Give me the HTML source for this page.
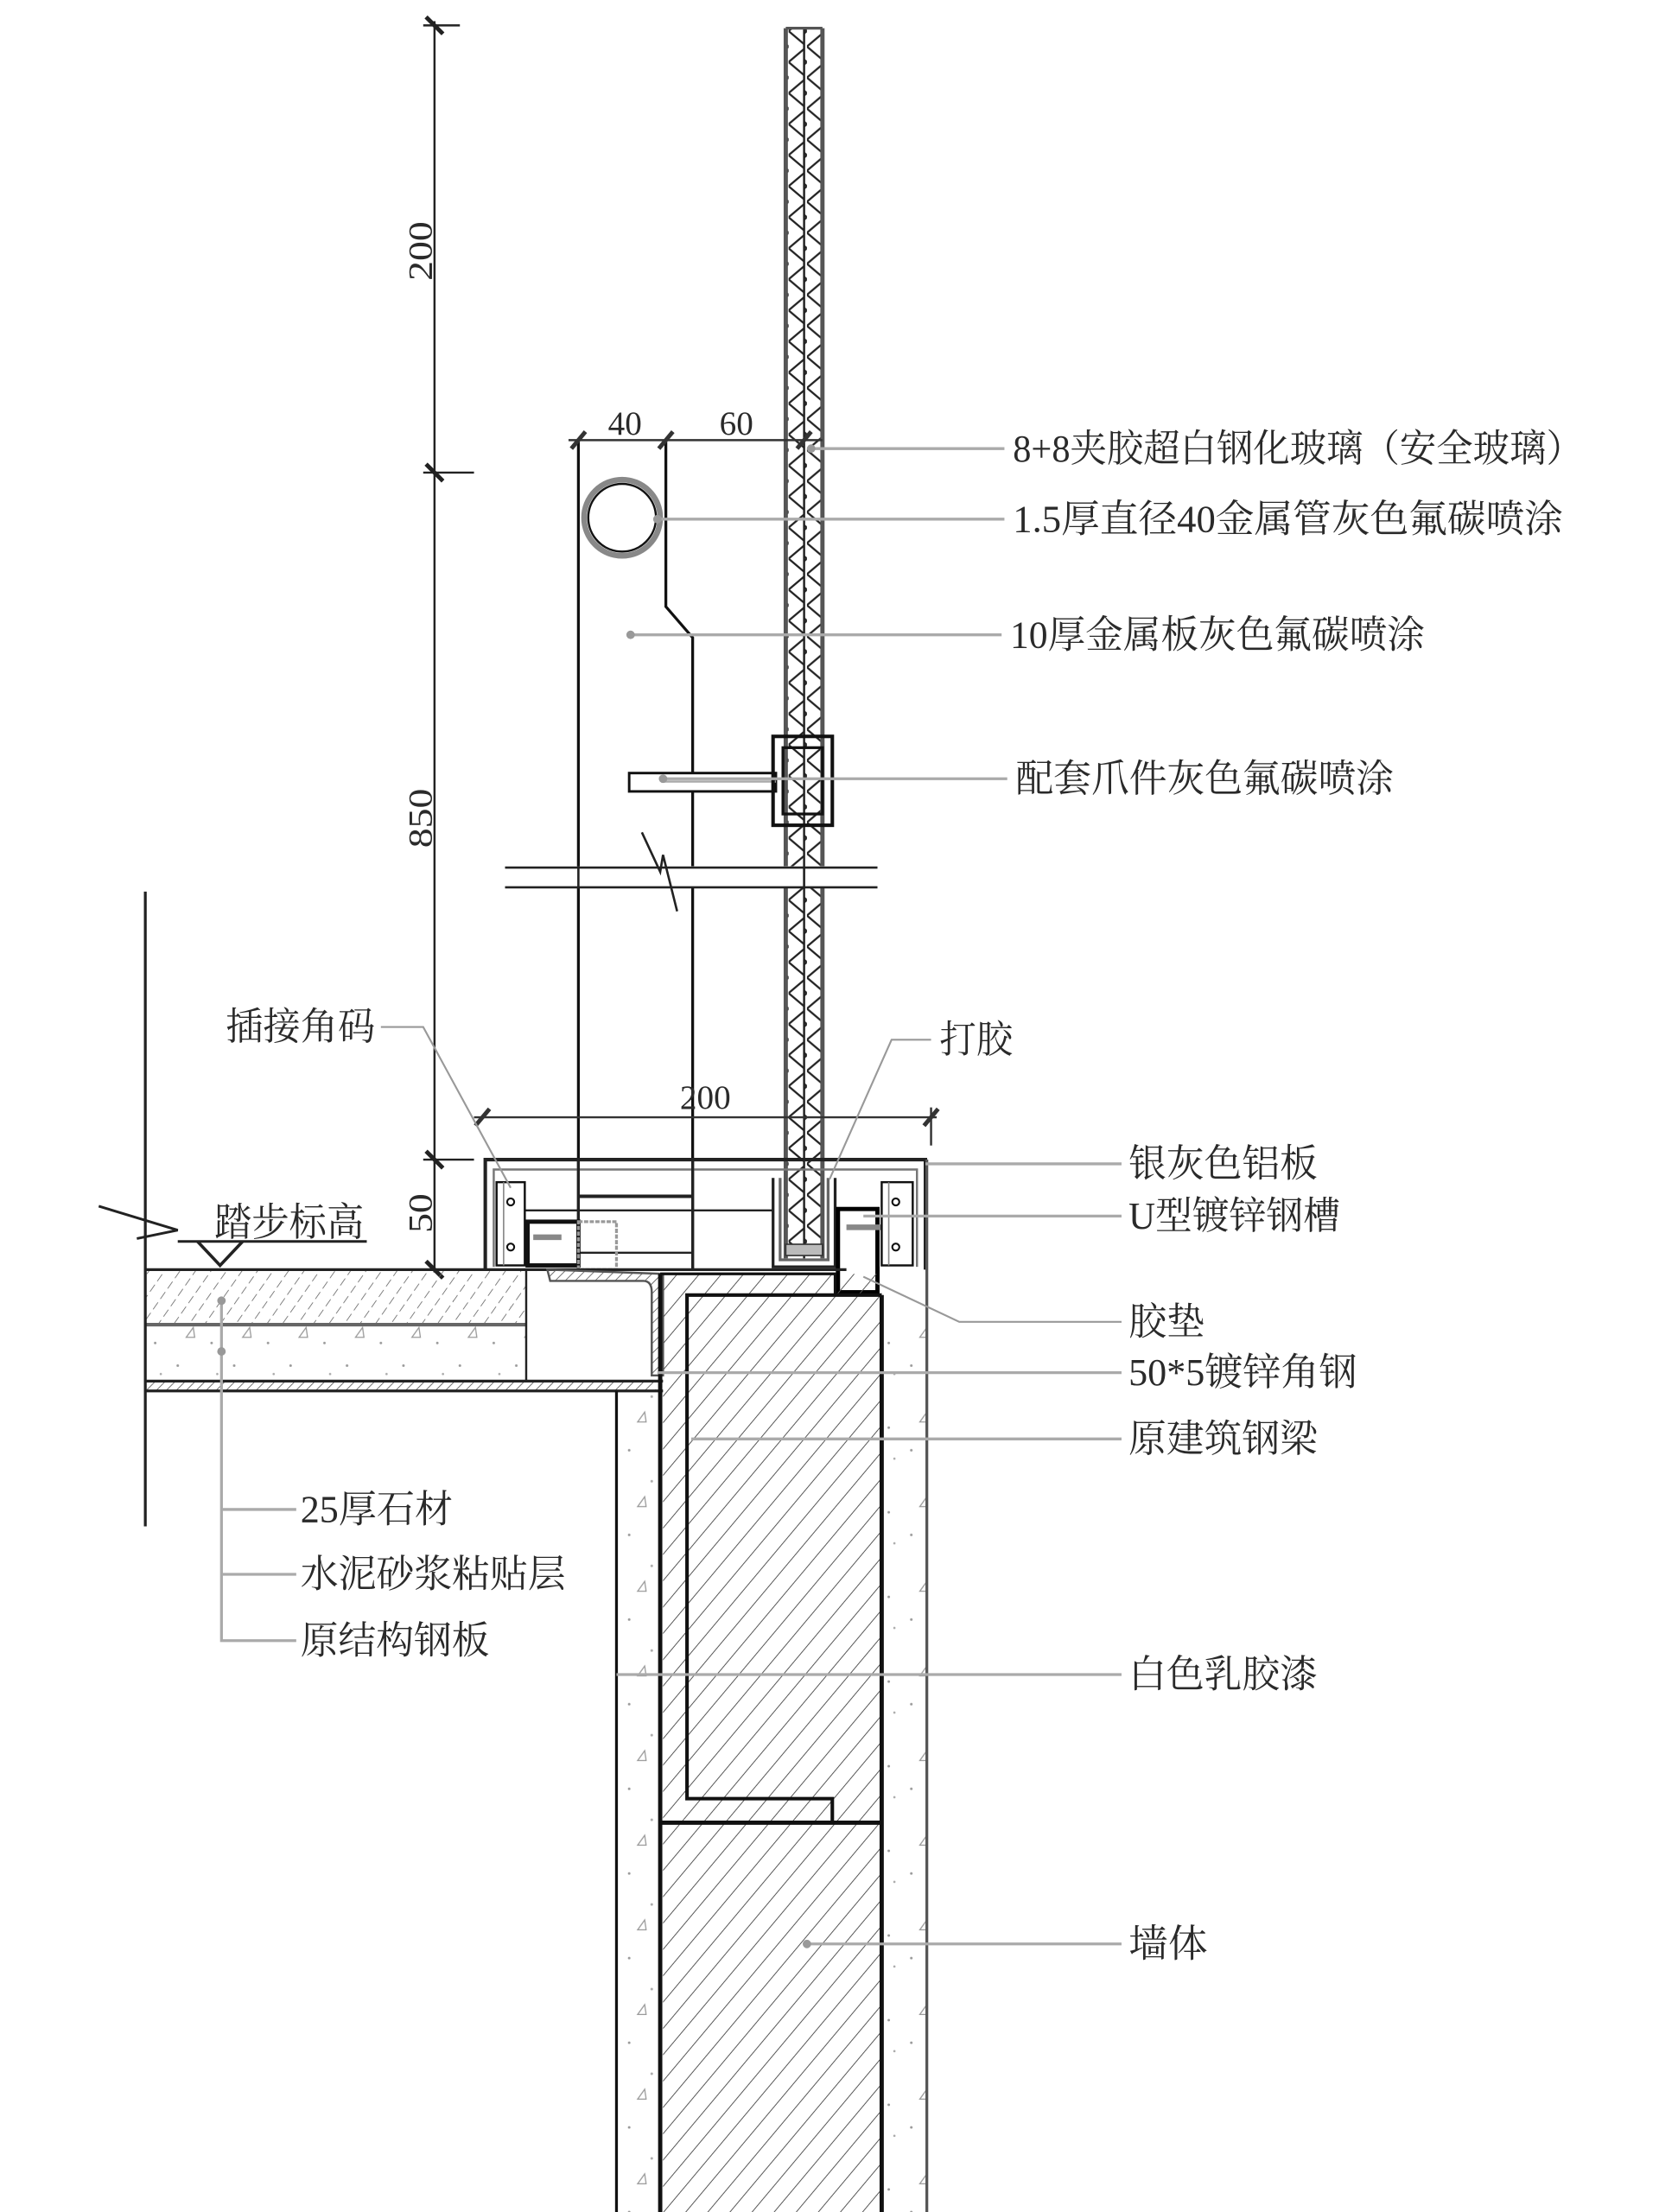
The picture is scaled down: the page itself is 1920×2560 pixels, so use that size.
<!DOCTYPE html>
<html><head><meta charset="utf-8"><style>
html,body{margin:0;padding:0;background:#fff;}
svg{display:block;}
text{font-family:"Liberation Serif","Noto Serif CJK SC",serif;fill:#2a2a2a;}
</style></head><body>
<svg width="1920" height="2560" viewBox="0 0 1176 1568" preserveAspectRatio="none" xmlns="http://www.w3.org/2000/svg">
<defs>
<pattern id="h1" width="12" height="12" patternUnits="userSpaceOnUse" patternTransform="rotate(40)">
<line x1="0" y1="0" x2="0" y2="12" stroke="#555" stroke-width="1.2"/></pattern>
<pattern id="h2" width="9" height="9" patternUnits="userSpaceOnUse" patternTransform="rotate(35)">
<line x1="0" y1="0" x2="0" y2="9" stroke="#666" stroke-width="1" stroke-dasharray="5 3"/></pattern>
<pattern id="hs" width="5" height="5" patternUnits="userSpaceOnUse" patternTransform="rotate(45)">
<line x1="0" y1="0" x2="0" y2="5" stroke="#555" stroke-width="1"/></pattern>
<pattern id="dots" width="40" height="60" patternUnits="userSpaceOnUse">
<circle cx="6" cy="8" r="0.9" fill="#999"/><circle cx="22" cy="30" r="0.9" fill="#aaa"/>
<path d="M12 48 l5 -7 l1 7 z" fill="none" stroke="#999" stroke-width="0.8"/>
<circle cx="30" cy="52" r="0.9" fill="#999"/><circle cx="34" cy="14" r="0.8" fill="#aaa"/></pattern>
<pattern id="zz" width="13" height="22" patternUnits="userSpaceOnUse">
<polyline points="0,0 13,11 0,22" fill="none" stroke="#222" stroke-width="1.4"/></pattern>
<pattern id="zz2" width="13" height="22" patternUnits="userSpaceOnUse">
<polyline points="13,0 0,11 13,22" fill="none" stroke="#222" stroke-width="1.4"/></pattern>
</defs>

<g stroke="#222" stroke-width="1.5" fill="none">
<line x1="308" y1="15" x2="308" y2="902"/>
<line x1="300" y1="18" x2="326" y2="18"/>
<line x1="300" y1="335" x2="336" y2="335"/>
<line x1="300" y1="822" x2="336" y2="822"/>
<line x1="300" y1="900" x2="318" y2="900"/>
<g stroke-width="3"><line x1="302" y1="12" x2="314" y2="24"/><line x1="302" y1="329" x2="314" y2="341"/><line x1="302" y1="816" x2="314" y2="828"/><line x1="302" y1="894" x2="314" y2="906"/></g>
</g>
<text transform="translate(306,178) rotate(-90)" font-size="24" text-anchor="middle" textLength="42" lengthAdjust="spacingAndGlyphs">200</text>
<text transform="translate(306,580) rotate(-90)" font-size="24" text-anchor="middle" textLength="42" lengthAdjust="spacingAndGlyphs">850</text>
<text transform="translate(306,860) rotate(-90)" font-size="24" text-anchor="middle" textLength="28" lengthAdjust="spacingAndGlyphs">50</text>

<rect x="557" y="20" width="26" height="875" fill="#fff"/>
<rect x="558" y="20" width="12" height="870" fill="url(#zz)"/>
<rect x="570" y="20" width="12" height="870" fill="url(#zz2)"/>
<g stroke="#555" stroke-width="3" fill="none"><line x1="557" y1="20" x2="557" y2="892"/><line x1="583" y1="20" x2="583" y2="892"/></g>
<line x1="570" y1="20" x2="570" y2="892" stroke="#222" stroke-width="1.5"/>
<line x1="557" y1="20" x2="583" y2="20" stroke="#555" stroke-width="2"/>

<g stroke="#111" stroke-width="2" fill="none">
<line x1="410" y1="312" x2="410" y2="900"/>
<polyline points="472,312 472,430 491,452 491,900"/>
</g>
<circle cx="441" cy="367" r="27" fill="#fff" stroke="#888" stroke-width="4"/>
<circle cx="441" cy="367" r="24" fill="none" stroke="#111" stroke-width="1.5"/>
<g stroke="#333" stroke-width="1.5"><line x1="403" y1="312" x2="583" y2="312"/>
<g stroke-width="3"><line x1="405" y1="318" x2="415" y2="306"/><line x1="467" y1="318" x2="477" y2="306"/><line x1="565" y1="318" x2="575" y2="306"/></g></g>
<text x="443" y="308" font-size="24" text-anchor="middle">40</text>
<text x="522" y="308" font-size="24" text-anchor="middle">60</text>

<rect x="446" y="548" width="104" height="13" fill="#fff" stroke="#111" stroke-width="1.8"/>
<line x1="470" y1="554" x2="550" y2="554" stroke="#aaa" stroke-width="1.5"/>
<rect x="548" y="522" width="42" height="63" fill="none" stroke="#111" stroke-width="2.5"/>
<rect x="555" y="530" width="28" height="47" fill="none" stroke="#111" stroke-width="2"/>

<g stroke="#222" stroke-width="1.6" fill="#fff">
<rect x="358" y="614" width="264" height="15" stroke="none"/>
<line x1="358" y1="615" x2="622" y2="615"/><line x1="358" y1="629" x2="622" y2="629"/>
<polyline points="455,590 468,618 470,606 480,646" fill="none"/>
<line x1="410" y1="614" x2="410" y2="630"/><line x1="570" y1="614" x2="570" y2="630"/>
</g>

<g stroke="#333" stroke-width="1.5"><line x1="336" y1="792" x2="664" y2="792"/>
<line x1="660" y1="785" x2="660" y2="812"/>
<g stroke-width="3"><line x1="337" y1="798" x2="347" y2="786"/><line x1="655" y1="798" x2="665" y2="786"/></g></g>
<text x="500" y="786" font-size="24" text-anchor="middle">200</text>

<g fill="none" stroke="#222">
<polyline points="344,900 344,822 656,822 656,900" stroke-width="2.5"/>
<polyline points="350,898 350,829 650,829 650,898" stroke="#777" stroke-width="1.5"/>
<line x1="410" y1="822" x2="410" y2="900" stroke-width="2"/>
<line x1="491" y1="822" x2="491" y2="900" stroke-width="2"/>
<line x1="410" y1="848" x2="491" y2="848" stroke-width="2.5"/>
<line x1="372" y1="858" x2="548" y2="858" stroke-width="1.5"/>
<line x1="410" y1="888" x2="491" y2="888" stroke-width="1.5"/>
</g>
<rect x="352" y="838" width="20" height="59" fill="#fff" stroke="#111" stroke-width="1.5"/>
<line x1="357" y1="838" x2="357" y2="897" stroke="#888"/>
<circle cx="362" cy="852" r="2.5" fill="none" stroke="#111" stroke-width="1.3"/>
<circle cx="362" cy="884" r="2.5" fill="none" stroke="#111" stroke-width="1.3"/>
<rect x="374" y="866" width="36" height="31" fill="#fff" stroke="#111" stroke-width="3"/>
<path d="M378 877 h20" stroke="#888" stroke-width="4"/>
<rect x="410" y="866" width="27" height="34" fill="none" stroke="#999" stroke-width="2" stroke-dasharray="3 1"/>
<polyline points="548,835 548,898 592,898 592,835" fill="none" stroke="#222" stroke-width="2"/>
<polyline points="553,835 553,893 587,893 587,835" fill="none" stroke="#666" stroke-width="2"/>
<rect x="557" y="882" width="26" height="8" fill="#bbb" stroke="#333"/>
<rect x="594" y="857" width="28" height="59" fill="#fff" stroke="#000" stroke-width="3"/>
<path d="M600 870 h26" stroke="#888" stroke-width="4"/>
<rect x="625" y="838" width="22" height="59" fill="#fff" stroke="#111" stroke-width="1.5"/>
<line x1="630" y1="838" x2="630" y2="897" stroke="#888"/>
<circle cx="635" cy="852" r="2.5" fill="none" stroke="#111" stroke-width="1.3"/>
<circle cx="635" cy="884" r="2.5" fill="none" stroke="#111" stroke-width="1.3"/>

<rect x="103" y="900" width="270" height="39" fill="url(#h2)"/>
<rect x="103" y="939" width="270" height="40" fill="url(#dots)"/>
<rect x="103" y="979" width="362" height="7" fill="url(#hs)"/>
<g stroke="#222" fill="none">
<line x1="103" y1="900" x2="600" y2="900" stroke-width="2"/>
<line x1="103" y1="939" x2="373" y2="939" stroke="#666" stroke-width="2.5"/>
<line x1="103" y1="979" x2="470" y2="979" stroke-width="2"/>
<line x1="103" y1="986" x2="470" y2="986" stroke-width="2"/>
<line x1="373" y1="900" x2="373" y2="979" stroke-width="1.5"/>
<line x1="103" y1="632" x2="103" y2="1082" stroke-width="2"/>
<polyline points="70,855 126,872 97,878" stroke-width="1.8"/>
<line x1="126" y1="880" x2="260" y2="880" stroke-width="1.8"/>
<polyline points="140,880 156,897 172,880" stroke-width="2.2"/>
</g>
<text x="152" y="876" font-size="28" textLength="106" lengthAdjust="spacingAndGlyphs">踏步标高</text>
<path d="M388 900 L390 908 L456 908 Q462 908 462 916 L462 975 L470 975 L470 903 Z" fill="url(#hs)" stroke="#555" stroke-width="1.5"/>

<rect x="437" y="986" width="31" height="582" fill="url(#dots)"/>
<rect x="625" y="918" width="32" height="650" fill="url(#dots)"/>
<rect x="470" y="903" width="155" height="665" fill="url(#h1)"/>
<g stroke="#111" fill="none">
<line x1="437" y1="986" x2="437" y2="1568" stroke-width="2"/>
<line x1="468" y1="903" x2="468" y2="1568" stroke-width="3"/>
<line x1="625" y1="918" x2="625" y2="1568" stroke-width="3"/>
<line x1="657" y1="822" x2="657" y2="1568" stroke="#555" stroke-width="2"/>
<polyline points="468,903 592,903 592,918" stroke-width="2"/>
<polyline points="625,918 487,918 487,1275 590,1275 590,1292" stroke-width="2.5"/>
<line x1="468" y1="1292" x2="625" y2="1292" stroke-width="3"/>
</g>

<g stroke="#aaa" stroke-width="2" fill="none">
<line x1="575" y1="318" x2="712" y2="318"/>
<line x1="466" y1="368" x2="712" y2="368"/>
<line x1="447" y1="450" x2="710" y2="450"/>
<line x1="470" y1="552" x2="714" y2="552"/>
<polyline points="660,737 632,737 588,836" stroke="#999" stroke-width="1.3"/>
<polyline points="270,728 300,728 362,842" stroke="#999" stroke-width="1.3"/>
<line x1="656" y1="825" x2="795" y2="825"/>
<line x1="612" y1="862" x2="795" y2="862"/>
<polyline points="612,905 680,937 795,937" stroke="#999" stroke-width="1.3"/>
<line x1="466" y1="973" x2="795" y2="973"/>
<line x1="490" y1="1020" x2="795" y2="1020"/>
<line x1="437" y1="1187" x2="795" y2="1187"/>
<line x1="572" y1="1378" x2="795" y2="1378"/>
<polyline points="157,920 157,1163 210,1163"/>
<line x1="157" y1="1070" x2="210" y2="1070"/>
<line x1="157" y1="1116" x2="210" y2="1116"/>
</g>
<g fill="#999"><circle cx="575" cy="318" r="3"/><circle cx="466" cy="368" r="3"/><circle cx="447" cy="450" r="3"/><circle cx="470" cy="552" r="3"/><circle cx="157" cy="922" r="3"/><circle cx="157" cy="958" r="3"/><circle cx="572" cy="1378" r="3"/></g>

<g font-size="27">
<text x="718" y="327" textLength="404" lengthAdjust="spacingAndGlyphs">8+8夹胶超白钢化玻璃（安全玻璃）</text>
<text x="718" y="377" textLength="390" lengthAdjust="spacingAndGlyphs">1.5厚直径40金属管灰色氟碳喷涂</text>
<text x="716" y="459" textLength="294" lengthAdjust="spacingAndGlyphs">10厚金属板灰色氟碳喷涂</text>
<text x="720" y="561" textLength="268" lengthAdjust="spacingAndGlyphs">配套爪件灰色氟碳喷涂</text>
<text x="666" y="746" textLength="52" lengthAdjust="spacingAndGlyphs">打胶</text>
<text x="160" y="737" textLength="106" lengthAdjust="spacingAndGlyphs">插接角码</text>
<text x="800" y="834" textLength="134" lengthAdjust="spacingAndGlyphs">银灰色铝板</text>
<text x="800" y="871" textLength="150" lengthAdjust="spacingAndGlyphs">U型镀锌钢槽</text>
<text x="800" y="946" textLength="54" lengthAdjust="spacingAndGlyphs">胶垫</text>
<text x="800" y="982" textLength="162" lengthAdjust="spacingAndGlyphs">50*5镀锌角钢</text>
<text x="800" y="1029" textLength="134" lengthAdjust="spacingAndGlyphs">原建筑钢梁</text>
<text x="800" y="1196" textLength="134" lengthAdjust="spacingAndGlyphs">白色乳胶漆</text>
<text x="800" y="1387" textLength="56" lengthAdjust="spacingAndGlyphs">墙体</text>
<text x="213" y="1079" textLength="108" lengthAdjust="spacingAndGlyphs">25厚石材</text>
<text x="213" y="1125" textLength="188" lengthAdjust="spacingAndGlyphs">水泥砂浆粘贴层</text>
<text x="213" y="1172" textLength="134" lengthAdjust="spacingAndGlyphs">原结构钢板</text>
</g>
</svg>
</body></html>
